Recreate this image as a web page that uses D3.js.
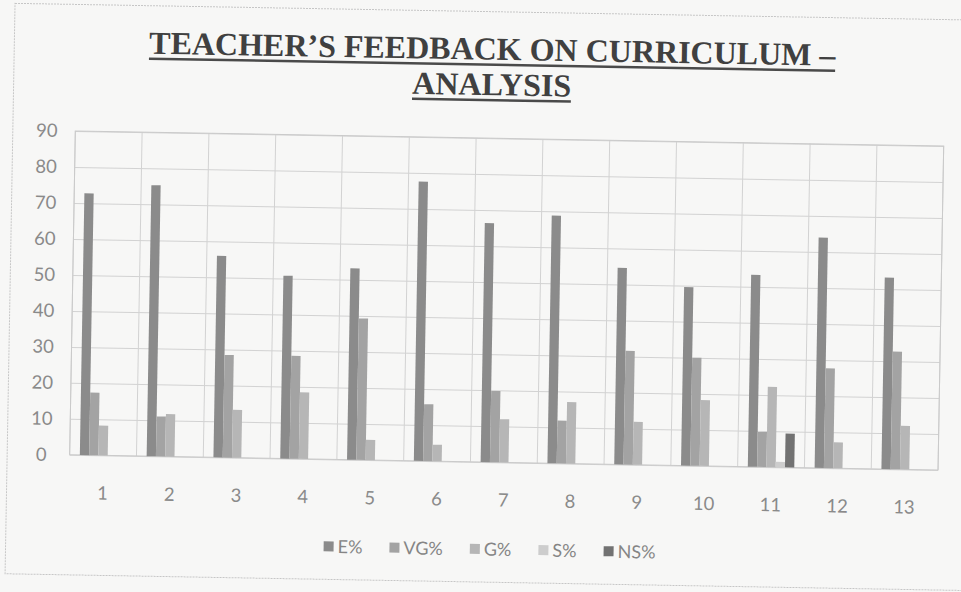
<!DOCTYPE html>
<html>
<head>
<meta charset="utf-8">
<script src="https://cdn.jsdelivr.net/npm/d3@7"></script>
<style>
  body { margin: 0; background: #f7f7f6; }
  svg { display: block; }
</style>
</head>
<body>
<svg width="961" height="592"></svg>
<script>
// values (percent of teachers)
const categories = ['1', '2', '3', '4', '5', '6', '7', '8', '9', '10', '11', '12', '13'];
const seriesNames = ['E%', 'VG%', 'G%', 'S%', 'NS%'];
const ePct  = [72.7, 75.3, 56.0, 50.8, 53.2, 77.6, 66.4, 68.8, 54.6, 49.6, 53.3, 64.0, 53.2];
const vgPct = [17.4, 11.1, 28.5, 28.6, 39.3, 15.8, 19.8, 11.9, 31.6, 30.0, 9.7, 27.7, 32.7];
const gPct  = [8.3, 11.8, 13.3, 18.5, 5.6, 4.6, 12.0, 17.1, 11.9, 18.3, 22.3, 7.2, 12.1];
const sPct  = [0, 0, 0, 0, 0, 0, 0, 0, 0, 0, 1.5, 0, 0];
const nsPct = [0, 0, 0, 0, 0, 0, 0, 0, 0, 0, 9.4, 0, 0];
const yTicks = [0, 10, 20, 30, 40, 50, 60, 70, 80, 90];
const titleLines = ["TEACHER\u2019S FEEDBACK ON CURRICULUM \u2013", "ANALYSIS"];

const seriesValues = [ePct, vgPct, gPct, sPct, nsPct];
const colors = ['#8b8b8b', '#a3a3a3', '#b6b6b6', '#cdcdcd', '#727272'];

const svg = d3.select('svg');
// the scan is tilted about one degree, so everything sits in a rotated group
const chart = svg.append('g').attr('transform', 'rotate(1,480,296)');

// outer chart border
chart.append('rect')
  .attr('x', 10).attr('y', 11.5)
  .attr('width', 990).attr('height', 570.5)
  .attr('fill', 'none')
  .attr('stroke', '#c6c6c6')
  .attr('stroke-dasharray', '2,1');

// title: one text element, one tspan per line, each underlined
const title = chart.append('g');
const titleText = title.append('text')
  .attr('font-family', '"Liberation Serif", "Times New Roman", serif')
  .attr('font-weight', 'bold')
  .attr('font-size', 32)
  .attr('fill', '#404040')
  .attr('text-anchor', 'middle');

titleLines.forEach((t, i) => {
  const base = 59.5 + i * 35.5;
  const span = titleText.append('tspan')
    .attr('x', 488).attr('y', base)
    .text(t);
  const w = span.node().getComputedTextLength();
  title.append('line')
    .attr('x1', 488 - w / 2).attr('x2', 488 + w / 2)
    .attr('y1', base + 5).attr('y2', base + 5)
    .attr('stroke', '#4a4a4a')
    .attr('stroke-width', 2.5);
});

// scales
const plotLeft = 72.5, plotRight = 941, plotTop = 138, plotBottom = 462;
const x = d3.scaleBand().domain(categories).range([plotLeft, plotRight]).padding(0);
const xs = d3.scaleBand().domain(seriesNames).range([0, x.bandwidth()])
  .paddingInner(0).paddingOuter(1.095);
const y = d3.scaleLinear().domain([0, 90]).range([plotBottom, plotTop]);

// horizontal gridlines + y labels
const yAxis = chart.append('g')
  .attr('transform', `translate(${plotLeft},0)`)
  .call(d3.axisLeft(y).tickValues(yTicks).tickSize(-(plotRight - plotLeft)).tickPadding(0));
yAxis.select('.domain').remove();
yAxis.selectAll('line').attr('stroke', '#d2d2d2');
yAxis.selectAll('text')
  .attr('x', -28.5)
  .attr('text-anchor', 'middle')
  .attr('font-family', 'Lato, "Open Sans", sans-serif')
  .attr('font-size', 18.5)
  .attr('fill', '#8a8a8a');

// vertical gridlines at category boundaries
const bounds = categories.map(c => x(c)).concat([x.range()[1]]);
chart.append('g').selectAll('line')
  .data(bounds)
  .join('line')
  .attr('x1', d => d).attr('x2', d => d)
  .attr('y1', plotTop).attr('y2', plotBottom)
  .attr('stroke', '#d2d2d2');

// plot border
chart.append('rect')
  .attr('x', plotLeft).attr('y', plotTop)
  .attr('width', plotRight - plotLeft).attr('height', plotBottom - plotTop)
  .attr('fill', 'none')
  .attr('stroke', '#cacaca');

// bars
seriesNames.forEach((s, si) => {
  chart.append('g')
    .attr('fill', colors[si])
    .selectAll('rect')
    .data(categories.map((c, i) => ({ c, v: seriesValues[si][i] })).filter(d => d.v > 0))
    .join('rect')
    .attr('x', d => x(d.c) + xs(s))
    .attr('y', d => y(d.v))
    .attr('width', xs.bandwidth())
    .attr('height', d => y(0) - y(d.v));
});

// x labels
const xAxis = chart.append('g')
  .attr('transform', `translate(0,${plotBottom})`)
  .call(d3.axisBottom(x).tickSize(0).tickPadding(31));
xAxis.select('.domain').remove();
xAxis.selectAll('text')
  .attr('font-family', 'Lato, "Open Sans", sans-serif')
  .attr('font-size', 18.5)
  .attr('fill', '#8a8a8a');

// legend
const legend = chart.append('g')
  .attr('font-family', 'Lato, "Open Sans", sans-serif')
  .attr('font-size', 18)
  .attr('fill', '#858585');
let lx = 0;
seriesNames.forEach((s, i) => {
  const item = legend.append('g');
  item.append('rect')
    .attr('x', 0).attr('y', -5)
    .attr('width', 10).attr('height', 10)
    .attr('fill', colors[i]);
  const t = item.append('text')
    .attr('x', 14).attr('y', 6.5)
    .text(s);
  const w = 14 + t.node().getComputedTextLength();
  item.attr('transform', `translate(${lx},0)`);
  lx += w + 27;
});
const legendWidth = lx - 27;
legend.attr('transform', `translate(${494 - legendWidth / 2},549)`);
</script>
</body>
</html>
